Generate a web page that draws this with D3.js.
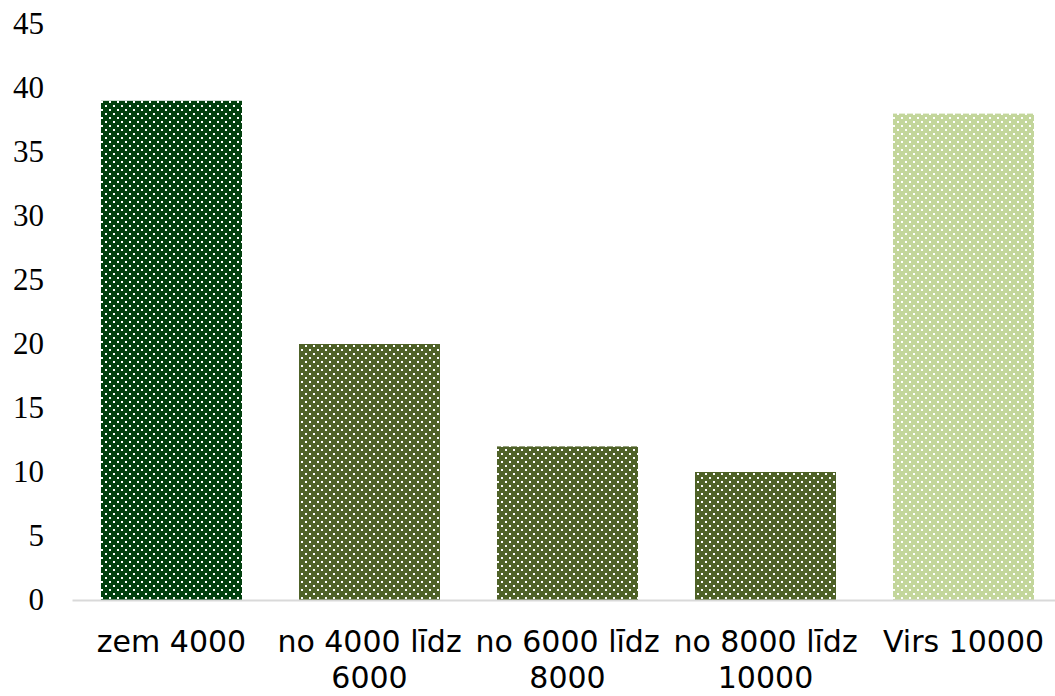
<!DOCTYPE html>
<html>
<head>
<meta charset="utf-8">
<script src="https://cdn.jsdelivr.net/npm/d3@7"></script>
<style>
	html, body { margin: 0; padding: 0; background: #fff; }
	svg { display: block; }
</style>
</head>
<body>
<div id="chart"></div>
<script>
// data
const categories = ['zem 4000', 'no 4000 līdz 6000', 'no 6000 līdz 8000', 'no 8000 līdz 10000', 'Virs 10000'];
const values = [39, 20, 12, 10, 38];
const barColors = ['#013f0d', '#4f6228', '#4f6228', '#4f6228', '#c3d69b'];
const yTicks = [0, 5, 10, 15, 20, 25, 30, 35, 40, 45];

const options = {
	w: 1055,
	h: 696,
	left: 72.5,
	right: 1062.5,
	top: 24,
	bottom: 600
};

const svg = d3.select('#chart').append('svg')
	.attr('width', options.w)
	.attr('height', options.h);

// dotted fill, one pattern per colour
const defs = svg.append('defs');
barColors.forEach((c, i) => {
	const p = defs.append('pattern')
		.attr('id', 'dots' + i)
		.attr('patternUnits', 'userSpaceOnUse')
		.attr('width', 8)
		.attr('height', 8);
	p.append('rect').attr('width', 8).attr('height', 8).attr('fill', c);
	p.append('rect').attr('x', 1).attr('y', 1).attr('width', 2).attr('height', 2).attr('fill', '#fff');
	p.append('rect').attr('x', 5).attr('y', 5).attr('width', 2).attr('height', 2).attr('fill', '#fff');
});

const x = d3.scaleBand()
	.domain(categories)
	.range([options.left, options.right])
	.paddingInner(0.288)
	.paddingOuter(0.144);

const y = d3.scaleLinear()
	.domain([0, 45])
	.range([options.bottom, options.top]);

// bars
svg.append('g')
	.selectAll('rect')
	.data(values)
	.enter()
	.append('rect')
	.attr('x', (d, i) => x(categories[i]))
	.attr('y', d => y(d))
	.attr('width', x.bandwidth())
	.attr('height', d => y(0) - y(d))
	.attr('fill', (d, i) => 'url(#dots' + i + ')');

// baseline
svg.append('line')
	.attr('x1', options.left)
	.attr('x2', options.w)
	.attr('y1', y(0) + 0.5)
	.attr('y2', y(0) + 0.5)
	.attr('stroke', '#d9d9d9')
	.attr('stroke-width', 2);

// y axis labels
const yAxis = d3.axisLeft(y).tickValues(yTicks).tickSize(0).tickPadding(0);
const gy = svg.append('g')
	.attr('transform', 'translate(44,0)')
	.call(yAxis);
gy.select('.domain').remove();
gy.selectAll('text')
	.attr('font-family', '"Liberation Serif", "Times New Roman", serif')
	.attr('font-size', 31)
	.attr('fill', '#000')
	.attr('dy', '0.32em');

// x axis labels, wrapped after "līdz"
const xAxis = d3.axisBottom(x).tickSize(0).tickFormat('');
const gx = svg.append('g')
	.attr('transform', 'translate(0,' + y(0) + ')')
	.call(xAxis);
gx.select('.domain').remove();
gx.selectAll('.tick').each(function(d) {
	const lines = d.split(/(?<=līdz) /);
	const t = d3.select(this).append('text')
		.attr('font-family', '"DejaVu Sans", Verdana, sans-serif')
		.attr('font-size', 30)
		.attr('fill', '#000')
		.attr('text-anchor', 'middle');
	lines.forEach((l, k) => {
		t.append('tspan')
			.attr('x', 0)
			.attr('y', 52 + k * 36)
			.text(l);
	});
});
</script>
</body>
</html>
